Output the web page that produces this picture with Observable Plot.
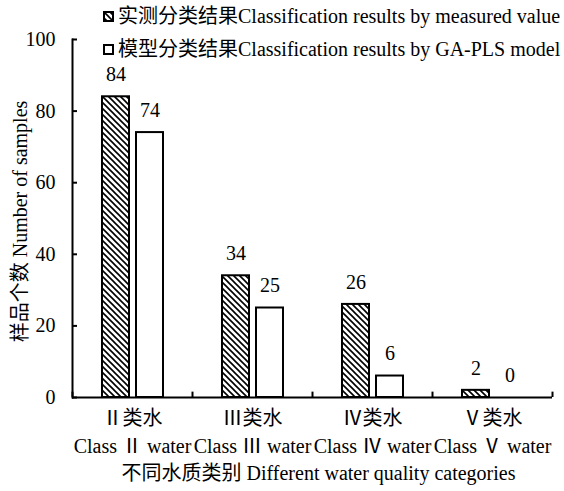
<!DOCTYPE html>
<html><head><meta charset="utf-8">
<script src="https://cdn.jsdelivr.net/npm/d3@7"></script>
<script src="https://cdn.jsdelivr.net/npm/@observablehq/plot@0.6"></script>
<style>
body{margin:0;background:#fff;}
#wrap{position:relative;width:564px;height:491px;}
#chart svg text, #chart svg tspan{font-family:"Liberation Serif","Noto Sans CJK SC",serif !important;font-variant:normal !important;}
.item{position:absolute;white-space:nowrap;font-family:"Liberation Serif","Noto Sans CJK SC",serif;font-size:20px;line-height:22px;color:#000;display:flex;align-items:center;}
.item svg{margin-right:4px;flex:none;}
</style></head><body><div id="wrap"><div id="chart"></div></div>
<script>
const categories = ["Ⅱ类水","Ⅲ类水","Ⅳ类水","Ⅴ类水"];
const categoriesEn = ["Class Ⅱ water","Class Ⅲ water","Class Ⅳ water","Class Ⅴ water"];
const seriesNames = ["实测分类结果Classification results by measured value","模型分类结果Classification results by GA-PLS model"];
const measured = [84,34,26,2];
const model = [74,25,6,0];
const yTicks = [0,20,40,60,80,100];
const yLabel = "样品个数 Number of samples";
const xLabel = "不同水质类别 Different water quality categories";

const measRows = categories.map((c,i)=>({cat:c, v:measured[i]}));
const modelRows = categories.map((c,i)=>({cat:c, v:model[i]}));
const FONT = '"Liberation Serif","Noto Sans CJK SC",serif';
const FS = 20;
const T = {fontFamily: FONT, fontSize: FS, fill: "#000"};

const plot = Plot.plot({
  width: 564, height: 491,
  marginTop: 39, marginBottom: 94, marginLeft: 72, marginRight: 12,
  style: `font-family: ${FONT}; font-size: ${FS}px; color: #000; background: #fff;`,
  x: {type: "band", domain: categories, padding: 0, axis: null},
  y: {domain: [0, 100], axis: null},
  marks: [
    Plot.barY(measRows, {x: "cat", y: "v", fill: "url(#hatch)", stroke: "#000", strokeWidth: 2, insetLeft: 30, insetRight: 63}),
    Plot.barY(modelRows, {x: "cat", y: "v", fill: "#fff", stroke: "#000", strokeWidth: 2, insetLeft: 64, insetRight: 29}),
    Plot.text(measRows, {x: "cat", y: "v", text: d => String(d.v), dx: -16.5, dy: -22, ...T}),
    Plot.text(modelRows, {x: "cat", y: "v", text: d => String(d.v), dx: 17.5, dy: -22, ...T}),
    Plot.axisY({ticks: yTicks, tickSize: -5, tickPadding: 22, strokeWidth: 2, label: null, tickFormat: d => String(d), fontFamily: FONT, fontSize: FS, fill: "#000"}),
    Plot.frame({anchor: "left", strokeWidth: 2}),
    Plot.ruleY([0], {strokeWidth: 2}),
    Plot.ruleX(categories, {x: d => d, dx: -60, y1: 0, y2: 1.5, strokeWidth: 2}),
    Plot.ruleX([categories[categories.length-1]], {x: d => d, dx: 60, y1: 0, y2: 1.5, strokeWidth: 2}),
    Plot.text(categories, {x: d => d, frameAnchor: "bottom", dy: 27, ...T}),
    Plot.text(categoriesEn, {x: (d,i) => categories[i], frameAnchor: "bottom", dy: 55, ...T}),
    Plot.text([xLabel], {frameAnchor: "bottom", dx: 6, dy: 82, ...T}),
    Plot.text([yLabel], {frameAnchor: "left", textAnchor: "middle", rotate: -90, dx: -52, dy: 3, ...T})
  ]
});

const svg = d3.select(plot);
const defs = svg.insert("defs", ":first-child");
const pat = defs.append("pattern").attr("id", "hatch").attr("patternUnits", "userSpaceOnUse").attr("width", 6).attr("height", 6);
pat.append("rect").attr("width", 6).attr("height", 6).attr("fill", "#fff");
pat.append("path").attr("d", "M-1,-1L7,7M-1,5L1,7M5,-1L7,1").attr("stroke", "#000").attr("stroke-width", 1.6);

document.getElementById("chart").appendChild(plot);

// legend
const wrap = document.getElementById("wrap");
const legendTops = [5, 38];
seriesNames.forEach((name, i) => {
  const div = document.createElement("div");
  div.className = "item";
  div.style.left = "103px";
  div.style.top = legendTops[i] + "px";
  const fill = i === 0 ? "url(#hatch)" : "#fff";
  div.innerHTML = `<svg width="11" height="11"><rect x="1" y="1" width="9" height="9" fill="${fill}" stroke="#000" stroke-width="2"/></svg>`;
  const span = document.createElement("span");
  span.textContent = name;
  div.appendChild(span);
  wrap.appendChild(div);
});
</script></body></html>
